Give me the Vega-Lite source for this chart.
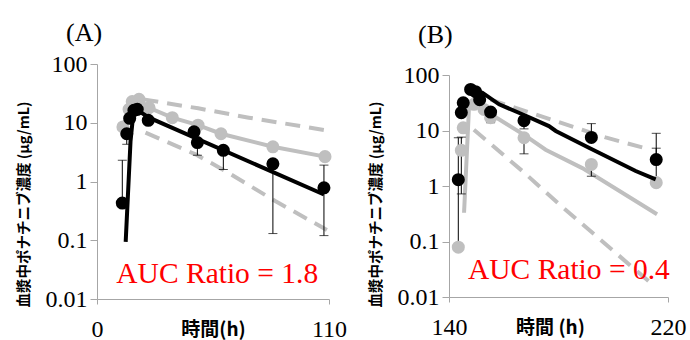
{
  "$schema": "https://vega.github.io/schema/vega-lite/v6.json",
  "padding": {"left": 16, "top": 20, "right": 2, "bottom": 0},
  "config": {
    "font": "Liberation Serif",
    "view": {"stroke": null},
    "axis": {"grid": false, "domainColor": "#a6a6a6", "tickColor": "#a6a6a6", "labelColor": "black", "labelFont": "Liberation Serif", "labelFontSize": 24, "titleColor": "black", "titleFont": "Noto Sans CJK JP", "titleFontWeight": "bold"},
    "axisY": {"tickSize": 7, "titleFontSize": 14.5, "titlePadding": 14, "labelPadding": 3},
    "axisX": {"tickSize": 5, "labelPadding": 13, "titleFontSize": 19, "titleY": 30, "titleBaseline": "middle", "labelFlush": false},
    "title": {"font": "Liberation Serif", "fontSize": 26, "fontWeight": "normal", "anchor": "start", "frame": "group", "dx": -31, "offset": 6, "color": "black"},
    "concat": {"spacing": 21}
  },
  "datasets": {
    "a": [
      {"s": "up", "t": 22, "v": 25}, {"s": "up", "t": 48, "v": 17.6}, {"s": "up", "t": 72, "v": 12.2}, {"s": "up", "t": 109, "v": 7.4},
      {"s": "lo", "t": 23, "v": 6.8}, {"s": "lo", "t": 46.7, "v": 2.9}, {"s": "lo", "t": 61, "v": 1.5}, {"s": "lo", "t": 84.7, "v": 0.46}, {"s": "lo", "t": 109, "v": 0.15},
      {"s": "bl", "t": 13.6, "v": 0.094}, {"s": "bl", "t": 15.9, "v": 4.9}, {"s": "bl", "t": 17.5, "v": 18}, {"s": "bl", "t": 24.7, "v": 12.2}, {"s": "bl", "t": 107.6, "v": 0.6},
      {"s": "g", "t": 12.3, "v": 8.5}, {"s": "g", "t": 15.2, "v": 16.9}, {"s": "g", "t": 16.7, "v": 23}, {"s": "g", "t": 19.9, "v": 25}, {"s": "g", "t": 24.7, "v": 18}, {"s": "g", "t": 35.7, "v": 12.2}, {"s": "g", "t": 47.9, "v": 9.1}, {"s": "g", "t": 58.8, "v": 6.5}, {"s": "g", "t": 83.4, "v": 3.9}, {"s": "g", "t": 108.1, "v": 2.65},
      {"s": "b", "t": 12, "v": 0.43}, {"s": "b", "t": 14.1, "v": 6.5}, {"s": "b", "t": 15.5, "v": 11.9}, {"s": "b", "t": 17.5, "v": 16.3}, {"s": "b", "t": 19.1, "v": 16.9}, {"s": "b", "t": 24.3, "v": 11}, {"s": "b", "t": 46, "v": 7.0}, {"s": "b", "t": 47.6, "v": 4.6}, {"s": "b", "t": 59.9, "v": 3.4}, {"s": "b", "t": 83.4, "v": 2.0}, {"s": "b", "t": 107.6, "v": 0.78},
      {"s": "e", "t": 12, "lo": 0.43, "hi": 2.3}, {"s": "e", "t": 14.1, "lo": 4.3, "hi": 6.5}, {"s": "e", "t": 47.6, "lo": 2.8, "hi": 4.6}, {"s": "e", "t": 59.9, "lo": 1.6, "hi": 3.4}, {"s": "e", "t": 83.4, "lo": 0.13, "hi": 2.0}, {"s": "e", "t": 107.6, "lo": 0.12, "hi": 1.9},
      {"s": "txt", "t": 57, "v": 0.0186, "label": "AUC Ratio = 1.8"}
    ],
    "b": [
      {"s": "up", "t": 155.2, "v": 36}, {"s": "up", "t": 179, "v": 14.8}, {"s": "up", "t": 197.2, "v": 7.5}, {"s": "up", "t": 213, "v": 4.6},
      {"s": "lo", "t": 149.1, "v": 10.3}, {"s": "lo", "t": 166.8, "v": 1.86}, {"s": "lo", "t": 181.4, "v": 0.42}, {"s": "lo", "t": 214.2, "v": 0.017},
      {"s": "bl", "t": 147.3, "v": 58}, {"s": "bl", "t": 152.2, "v": 48}, {"s": "bl", "t": 158.3, "v": 29.6}, {"s": "bl", "t": 166.8, "v": 19.6}, {"s": "bl", "t": 176.5, "v": 12}, {"s": "bl", "t": 179, "v": 9.8}, {"s": "bl", "t": 191.1, "v": 4.9}, {"s": "bl", "t": 208.2, "v": 1.86}, {"s": "bl", "t": 215.5, "v": 1.32},
      {"s": "gl", "t": 145.5, "v": 0.33}, {"s": "gl", "t": 147.3, "v": 26}, {"s": "gl", "t": 149, "v": 29}, {"s": "gl", "t": 153.4, "v": 22.5}, {"s": "gl", "t": 168, "v": 8}, {"s": "gl", "t": 175.3, "v": 4.5}, {"s": "gl", "t": 188.7, "v": 2.1}, {"s": "gl", "t": 216, "v": 0.31},
      {"s": "g", "t": 143.4, "v": 0.079}, {"s": "g", "t": 144.5, "v": 4.4}, {"s": "g", "t": 145.2, "v": 11.2}, {"s": "g", "t": 149.1, "v": 29.6}, {"s": "g", "t": 152.8, "v": 24}, {"s": "g", "t": 155.2, "v": 17}, {"s": "g", "t": 167.4, "v": 7.4}, {"s": "g", "t": 192, "v": 2.45}, {"s": "g", "t": 215.7, "v": 1.15},
      {"s": "b", "t": 143.4, "v": 1.3}, {"s": "b", "t": 144.5, "v": 21}, {"s": "b", "t": 145.2, "v": 31.6}, {"s": "b", "t": 147.9, "v": 55}, {"s": "b", "t": 149.7, "v": 50}, {"s": "b", "t": 151.2, "v": 36}, {"s": "b", "t": 155.2, "v": 21.5}, {"s": "b", "t": 167.4, "v": 15}, {"s": "b", "t": 192, "v": 7.5}, {"s": "b", "t": 215.7, "v": 3.0},
      {"s": "e", "t": 143.4, "lo": 0.08, "hi": 7.4}, {"s": "e", "t": 144.5, "lo": 0.72, "hi": 7.6}, {"s": "e", "t": 155.2, "lo": 13.8, "hi": 21.5}, {"s": "e", "t": 167.4, "lo": 3.8, "hi": 7.4}, {"s": "e", "t": 167.4, "lo": 10.7, "hi": 15}, {"s": "e", "t": 192, "lo": 7.5, "hi": 13.3}, {"s": "e", "t": 192, "lo": 1.5, "hi": 2.45}, {"s": "e", "t": 215.7, "lo": 3.0, "hi": 8.9}, {"s": "e", "t": 215.7, "lo": 1.15, "hi": 4.8},
      {"s": "txt", "t": 183.8, "v": 0.0211, "label": "AUC Ratio = 0.4"}
    ]
  },
  "hconcat": [
    {
      "width": 232, "height": 235,
      "title": {"text": "(A)"},
      "data": {"name": "a"},
      "encoding": {
        "x": {"field": "t", "type": "quantitative", "scale": {"domain": [0, 110], "nice": false}, "axis": {"values": [0, 110], "title": "時間(h)"}},
        "y": {"field": "v", "type": "quantitative", "scale": {"type": "log", "domain": [0.01, 100], "nice": false}, "axis": {"values": [0.01, 0.1, 1, 10, 100], "format": "~g", "title": "血漿中ポナチニブ濃度 (μg/mL)", "titleY": 140}}
      },
      "layer": [
        {"transform": [{"filter": "datum.s === 'up'"}], "mark": {"type": "line", "color": "#bfbfbf", "strokeWidth": 4, "strokeDash": [15, 9]}},
        {"transform": [{"filter": "datum.s === 'lo'"}], "mark": {"type": "line", "color": "#bfbfbf", "strokeWidth": 4, "strokeDash": [15, 9]}},
        {"transform": [{"filter": "datum.s === 'g'"}], "mark": {"type": "line", "color": "#bfbfbf", "strokeWidth": 4}},
        {"transform": [{"filter": "datum.s === 'e'"}], "mark": {"type": "errorbar", "color": "black", "thickness": 1, "ticks": {"size": 9, "color": "black", "thickness": 1}},
         "encoding": {"y": {"field": "lo", "type": "quantitative", "scale": {"type": "log", "domain": [0.01, 100], "nice": false}, "title": "血漿中ポナチニブ濃度 (μg/mL)"}, "y2": {"field": "hi"}}},
        {"transform": [{"filter": "datum.s === 'g'"}], "mark": {"type": "circle", "color": "#bfbfbf", "size": 170, "opacity": 1}},
        {"transform": [{"filter": "datum.s === 'b'"}], "mark": {"type": "circle", "color": "black", "size": 170, "opacity": 1}},
        {"transform": [{"filter": "datum.s === 'bl'"}], "mark": {"type": "line", "color": "black", "strokeWidth": 4}},
        {"transform": [{"filter": "datum.s === 'txt'"}], "mark": {"type": "text", "color": "#ff0000", "fontSize": 29.5, "font": "Liberation Serif", "align": "center", "baseline": "alphabetic"}, "encoding": {"text": {"field": "label"}}}
      ]
    },
    {
      "width": 219, "height": 233,
      "title": {"text": "(B)", "offset": 15},
      "data": {"name": "b"},
      "encoding": {
        "x": {"field": "t", "type": "quantitative", "scale": {"domain": [140, 220], "nice": false}, "axis": {"values": [140, 220], "title": "時間 (h)", "titleX": 101}},
        "y": {"field": "v", "type": "quantitative", "scale": {"type": "log", "domain": [0.01, 100], "nice": false, "range": [233, 11]}, "axis": {"values": [0.01, 0.1, 1, 10, 100], "format": "~g", "title": "血漿中ポナチニブ濃度 (μg/mL)", "titleY": 140}}
      },
      "layer": [
        {"transform": [{"filter": "datum.s === 'up'"}], "mark": {"type": "line", "color": "#bfbfbf", "strokeWidth": 4, "strokeDash": [15, 9]}},
        {"transform": [{"filter": "datum.s === 'lo'"}], "mark": {"type": "line", "color": "#bfbfbf", "strokeWidth": 4, "strokeDash": [15, 9]}},
        {"transform": [{"filter": "datum.s === 'gl'"}], "mark": {"type": "line", "color": "#bfbfbf", "strokeWidth": 4}},
        {"transform": [{"filter": "datum.s === 'e'"}], "mark": {"type": "errorbar", "color": "black", "thickness": 1, "ticks": {"size": 9, "color": "black", "thickness": 1}},
         "encoding": {"y": {"field": "lo", "type": "quantitative", "scale": {"type": "log", "domain": [0.01, 100], "nice": false, "range": [233, 11]}, "title": "血漿中ポナチニブ濃度 (μg/mL)"}, "y2": {"field": "hi"}}},
        {"transform": [{"filter": "datum.s === 'g'"}], "mark": {"type": "circle", "color": "#bfbfbf", "size": 170, "opacity": 1}},
        {"transform": [{"filter": "datum.s === 'b'"}], "mark": {"type": "circle", "color": "black", "size": 170, "opacity": 1}},
        {"transform": [{"filter": "datum.s === 'bl'"}], "mark": {"type": "line", "color": "black", "strokeWidth": 4}},
        {"transform": [{"filter": "datum.s === 'txt'"}], "mark": {"type": "text", "color": "#ff0000", "fontSize": 29.5, "font": "Liberation Serif", "align": "center", "baseline": "alphabetic"}, "encoding": {"text": {"field": "label"}}}
      ]
    }
  ]
}
